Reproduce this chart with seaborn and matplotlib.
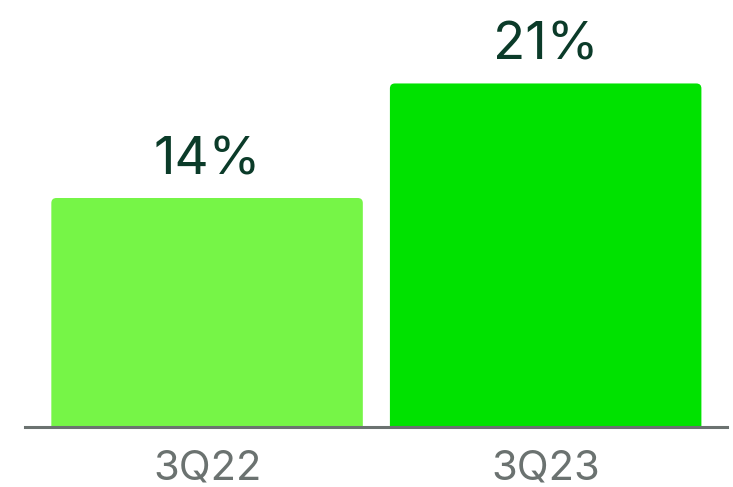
import matplotlib
matplotlib.use("Agg")
import matplotlib.pyplot as plt
import seaborn as sns
import pandas as pd
from matplotlib.patches import FancyBboxPatch

quarters = ["3Q22", "3Q23"]
values = [14, 21]
bar_colors = ["#76F547", "#00E200"]

sns.set_theme(style="white")
plt.rcParams["font.family"] = ["Inter", "DejaVu Sans"]

df = pd.DataFrame({"quarter": quarters, "value": values})

fig = plt.figure(figsize=(7.33, 4.87), dpi=100)
ax = fig.add_axes([0.034, 0.123, 0.958, 0.877])

sns.barplot(data=df, x="quarter", y="value", hue="quarter",
            palette=bar_colors, width=0.92, saturation=1,
            legend=False, ax=ax)

ax.set_xlim(-0.538, 1.536)
ax.set_ylim(0, 26.1)

# Swap plain rectangles for bars with rounded top corners
for patch in list(ax.patches):
    x, w, h = patch.get_x(), patch.get_width(), patch.get_height()
    col = patch.get_facecolor()
    patch.remove()
    rounded = FancyBboxPatch((x, -2), w, h + 2,
                             boxstyle="round,pad=0,rounding_size=0.015",
                             mutation_aspect=20.7,
                             facecolor=col, edgecolor="none", clip_on=True)
    ax.add_patch(rounded)
    ax.annotate(f"{h:.0f}%", (x + w / 2, h), xytext=(0, 9),
                textcoords="offset points", ha="center", va="bottom",
                fontsize=38, fontweight="normal", color="#0B3B29")

ax.set_xlabel("")
ax.set_ylabel("")
ax.set_yticks([])
ax.tick_params(axis="x", length=0, labelsize=30, colors="#6B7270", pad=16)
for side in ["top", "right", "left"]:
    ax.spines[side].set_visible(False)
ax.spines["bottom"].set_color("#6B7270")
ax.spines["bottom"].set_linewidth(2.2)

fig.savefig("out.png", dpi=100)
